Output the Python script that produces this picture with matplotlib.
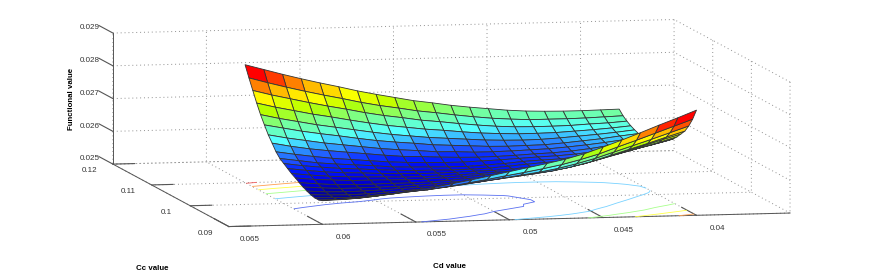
#!/usr/bin/env python3
import numpy as np
import matplotlib
matplotlib.use('Agg')
import matplotlib.pyplot as plt
from matplotlib.colors import LinearSegmentedColormap
from mpl_toolkits.mplot3d import proj3d

plt.rcParams['font.family'] = ['Liberation Sans', 'DejaVu Sans']
plt.rcParams['grid.linestyle'] = (0, (1, 3))
plt.rcParams['grid.linewidth'] = 0.7
plt.rcParams['grid.color'] = '#909090'

# values
cd_values = [0.060, 0.059, 0.058, 0.057, 0.056, 0.055, 0.054, 0.053, 0.052, 0.051, 0.050,
             0.049, 0.048, 0.047, 0.046, 0.045, 0.044, 0.043, 0.042, 0.041, 0.040]
cc_values = [0.090, 0.091, 0.092, 0.093, 0.094, 0.095, 0.096, 0.097, 0.098, 0.099, 0.100,
             0.101, 0.102, 0.103, 0.104, 0.105, 0.106, 0.107, 0.108, 0.109, 0.110]
# functional value * 1000, one row per Cc value
functional_e3 = [
    [25.72, 25.74, 25.77, 25.83, 25.90, 25.98, 26.05, 26.15, 26.25, 26.36, 26.47, 26.58, 26.69, 26.81, 26.96, 27.15, 27.35, 27.56, 27.78, 27.99, 28.21],
    [25.68, 25.68, 25.70, 25.75, 25.81, 25.87, 25.93, 26.00, 26.09, 26.18, 26.28, 26.37, 26.47, 26.58, 26.72, 26.88, 27.08, 27.27, 27.47, 27.67, 27.87],
    [25.68, 25.67, 25.67, 25.71, 25.75, 25.80, 25.84, 25.91, 25.98, 26.06, 26.14, 26.22, 26.30, 26.40, 26.53, 26.68, 26.86, 27.04, 27.22, 27.41, 27.60],
    [25.71, 25.69, 25.68, 25.70, 25.73, 25.77, 25.80, 25.85, 25.92, 25.98, 26.05, 26.12, 26.19, 26.27, 26.38, 26.52, 26.69, 26.86, 27.03, 27.21, 27.38],
    [25.76, 25.72, 25.71, 25.72, 25.74, 25.77, 25.79, 25.83, 25.89, 25.94, 26.00, 26.06, 26.12, 26.19, 26.29, 26.42, 26.58, 26.74, 26.90, 27.07, 27.23],
    [25.82, 25.78, 25.75, 25.75, 25.76, 25.77, 25.79, 25.82, 25.86, 25.90, 25.95, 26.00, 26.05, 26.11, 26.20, 26.32, 26.47, 26.62, 26.77, 26.92, 27.08],
    [25.89, 25.84, 25.80, 25.79, 25.79, 25.80, 25.80, 25.82, 25.85, 25.89, 25.93, 25.96, 26.00, 26.06, 26.14, 26.25, 26.39, 26.53, 26.67, 26.81, 26.95],
    [25.97, 25.91, 25.88, 25.85, 25.85, 25.84, 25.83, 25.84, 25.86, 25.88, 25.92, 25.95, 25.99, 26.04, 26.11, 26.21, 26.32, 26.45, 26.58, 26.71, 26.85],
    [26.04, 25.98, 25.93, 25.90, 25.88, 25.87, 25.85, 25.85, 25.86, 25.88, 25.90, 25.93, 25.96, 26.00, 26.07, 26.15, 26.27, 26.38, 26.50, 26.63, 26.76],
    [26.13, 26.06, 26.00, 25.96, 25.94, 25.91, 25.89, 25.88, 25.88, 25.89, 25.91, 25.92, 25.95, 26.00, 26.05, 26.11, 26.21, 26.32, 26.43, 26.55, 26.66],
    [26.22, 26.14, 26.08, 26.03, 26.00, 25.96, 25.93, 25.91, 25.91, 25.90, 25.91, 25.93, 25.97, 26.02, 26.06, 26.09, 26.17, 26.27, 26.37, 26.48, 26.59],
    [26.31, 26.23, 26.15, 26.10, 26.06, 26.02, 25.97, 25.95, 25.94, 25.93, 25.93, 25.96, 25.99, 26.04, 26.07, 26.09, 26.15, 26.23, 26.33, 26.42, 26.53],
    [26.45, 26.36, 26.28, 26.21, 26.16, 26.11, 26.06, 26.03, 26.01, 26.00, 26.00, 26.02, 26.04, 26.07, 26.10, 26.12, 26.16, 26.22, 26.31, 26.40, 26.50],
    [26.65, 26.54, 26.45, 26.38, 26.32, 26.26, 26.20, 26.15, 26.13, 26.10, 26.08, 26.07, 26.08, 26.10, 26.13, 26.15, 26.19, 26.25, 26.33, 26.41, 26.50],
    [26.84, 26.73, 26.64, 26.55, 26.48, 26.41, 26.34, 26.29, 26.25, 26.20, 26.19, 26.16, 26.16, 26.17, 26.19, 26.21, 26.25, 26.30, 26.36, 26.43, 26.51],
    [27.08, 26.97, 26.86, 26.77, 26.69, 26.60, 26.52, 26.46, 26.41, 26.35, 26.32, 26.29, 26.26, 26.25, 26.26, 26.27, 26.31, 26.36, 26.41, 26.48, 26.54],
    [27.33, 27.20, 27.09, 26.98, 26.89, 26.80, 26.71, 26.63, 26.57, 26.51, 26.47, 26.43, 26.39, 26.37, 26.36, 26.37, 26.40, 26.44, 26.48, 26.53, 26.59],
    [27.62, 27.48, 27.36, 27.24, 27.14, 27.03, 26.93, 26.84, 26.77, 26.70, 26.65, 26.59, 26.54, 26.51, 26.49, 26.49, 26.50, 26.53, 26.56, 26.60, 26.65],
    [27.94, 27.79, 27.66, 27.53, 27.41, 27.30, 27.18, 27.08, 27.00, 26.91, 26.85, 26.78, 26.72, 26.67, 26.64, 26.63, 26.63, 26.64, 26.67, 26.69, 26.73],
    [28.26, 28.10, 27.95, 27.81, 27.68, 27.56, 27.43, 27.32, 27.23, 27.13, 27.06, 26.98, 26.91, 26.85, 26.81, 26.78, 26.78, 26.78, 26.79, 26.81, 26.83],
    [28.60, 28.44, 28.28, 28.13, 27.99, 27.86, 27.72, 27.60, 27.49, 27.38, 27.30, 27.21, 27.14, 27.08, 27.02, 26.98, 26.96, 26.95, 26.95, 26.96, 26.97],
]
contour_levels = [0.026, 0.0265, 0.027, 0.0275, 0.028, 0.0285]
contour_colors = ['#5a70f0', '#78d2ff', '#a8ff8c', '#ffff46', '#ffa050', '#f05a5a']
cd_ticks = [0.065, 0.06, 0.055, 0.05, 0.045, 0.04]
cd_ticklabels = ['0.065', '0.06', '0.055', '0.05', '0.045', '0.04']
cc_ticks = [0.09, 0.1, 0.11, 0.12]
cc_ticklabels = ['0.09', '0.1', '0.11', '0.12']
z_ticks = [0.025, 0.026, 0.027, 0.028, 0.029]
z_ticklabels = ['0.025', '0.026', '0.027', '0.028', '0.029']

# the colours in the picture are paler in the middle than plain jet
cmap_stops = [(0.0, (0, 0, 170)), (0.05, (0, 0, 235)), (0.11, (0, 30, 255)), (0.16, (30, 80, 255)),
              (0.235, (50, 170, 255)), (0.30, (85, 255, 255)), (0.36, (100, 255, 200)),
              (0.44, (130, 255, 120)), (0.52, (180, 255, 0)), (0.61, (255, 255, 0)),
              (0.68, (255, 190, 0)), (0.73, (255, 128, 0)), (0.79, (255, 40, 0)),
              (0.84, (255, 0, 0)), (1.0, (255, 0, 0))]
surf_cmap = LinearSegmentedColormap.from_list(
    'surf', [(p, tuple(c / 255 for c in rgb)) for p, rgb in cmap_stops], N=64)

W, H = 872, 274
size = 789.0
fig = plt.figure(figsize=(W / 100, H / 100), dpi=100)
ax = fig.add_axes([46.3 / W, -254.2 / H, size / W, size / H], projection='3d',
                  proj_type='ortho', computed_zorder=False)
ax.view_init(elev=6.54, azim=258.06)
ax.set_box_aspect((573.5, 560.4, 131.9), zoom=1.0)

# Cd runs upward in the file so each cell takes its colour from its lower Cd corner
X, Y = np.meshgrid(cd_values[::-1], cc_values)
Z = (np.array(functional_e3) / 1000.0)[:, ::-1]

norm = plt.Normalize(Z.min(), Z.max())
cols = surf_cmap(norm(Z))

ax.contour(X, Y, Z, levels=contour_levels, zdir='z', offset=0.025, colors=contour_colors,
           linewidths=0.6, zorder=1)
ax.plot_surface(X, Y, Z, rstride=1, cstride=1, facecolors=cols, edgecolor='#333333',
                linewidth=0.6, shade=False, antialiased=True, zorder=2)

xlo, xhi = 0.065, 0.035
ylo, yhi = 0.09, 0.12
zlo, zhi = 0.025, 0.029
ax.set_xlim(xlo, xhi)
ax.set_ylim(ylo, yhi)
ax.set_zlim(zlo, zhi)
ax.set_xticks(cd_ticks)
ax.set_yticks(cc_ticks)
ax.set_zticks(z_ticks)
ax.set_xticklabels([])
ax.set_yticklabels([])
ax.set_zticklabels([])

outward = {'x': 1.6, 'y': 0.48, 'z': 1.5}
for name, axis in (('x', ax.xaxis), ('y', ax.yaxis), ('z', ax.zaxis)):
    axis.set_pane_color((1, 1, 1, 0))
    axis.pane.set_edgecolor((1, 1, 1, 0))
    axis.line.set_color('#555555')
    axis.line.set_linewidth(0.7)
    axis._axinfo['tick']['inward_factor'] = 0.0
    axis._axinfo['tick']['outward_factor'] = outward[name]
    ax.tick_params(axis=name, color='#555555', width=0.7)
# z ticks point along Cc here
ax.zaxis._get_tickdir = lambda position: 1


def tick_text(x, y, z, s):
    # flat text at the projected spot of the 3d point
    px, py, _ = proj3d.proj_transform(x, y, z, ax.get_proj())
    ax.text2D(px, py, s, transform=ax.transData, fontsize=5.8, color='#333333',
              ha='center', va='center')


for t, s in zip(cd_ticks, cd_ticklabels):
    tick_text(t, ylo - 0.18 * (yhi - ylo), zlo - 0.00005, s)
for t, s in zip(cc_ticks, cc_ticklabels):
    tick_text(xlo + 0.042 * (xlo - xhi), t, zlo - 0.00018, s)
for t, s in zip(z_ticks, z_ticklabels):
    tick_text(xlo, yhi + 0.2 * (yhi - ylo), t - 0.00022, s)

fig.text(71 / W, 1 - 99 / H, 'Functional value', rotation=90, fontsize=5.7, fontweight='bold',
         ha='center', va='center')
fig.text(152 / W, 1 - 268 / H, 'Cc value', fontsize=5.7, fontweight='bold', ha='center', va='center')
fig.text(449 / W, 1 - 266 / H, 'Cd value', fontsize=5.7, fontweight='bold', ha='center', va='center')

fig.savefig('out.png', dpi=100)
